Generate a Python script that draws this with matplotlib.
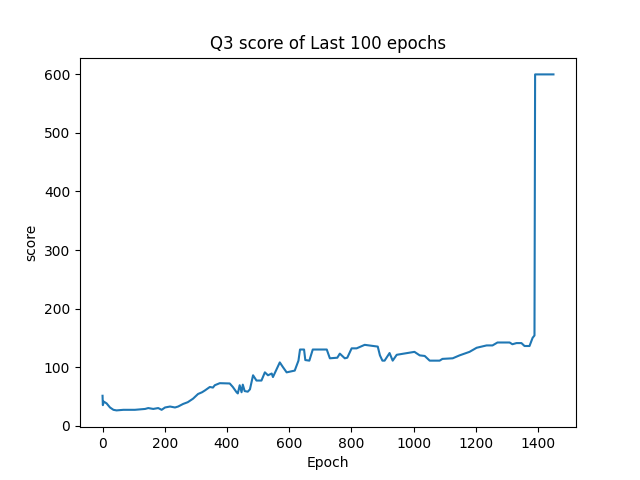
import numpy as np
import matplotlib
matplotlib.use("Agg")
import matplotlib.pyplot as plt

# breakpoints
epochs = [0, 1, 4, 13, 24, 35, 45, 67, 104, 137, 147, 163, 179, 190, 201, 217,
          233, 243, 259, 274, 291, 307, 320, 329, 345, 355, 361, 377, 409, 419,
          431, 435, 441, 447, 451, 457, 467, 474, 484, 495, 511, 522, 532, 544,
          548, 570, 580, 592, 618, 630, 635, 648, 652, 665, 676, 721, 731, 755,
          763, 779, 787, 801, 817, 843, 885, 892, 900, 907, 923, 933, 946, 1003,
          1020, 1036, 1052, 1084, 1093, 1126, 1148, 1180, 1203, 1235, 1254, 1270,
          1309, 1318, 1331, 1347, 1357, 1373, 1383, 1389, 1391, 1450]
scores = [51, 35, 41, 38, 31, 27, 26, 27, 27, 28.5, 30, 28.5, 30, 27, 31, 32.6,
          31, 32.6, 37, 40, 46, 54, 57, 60, 66, 65, 69, 72.5, 72, 66,
          57, 55, 69, 57, 70, 59, 58, 62, 86, 77, 77, 91, 86, 89,
          83, 108, 100, 91, 94, 111, 130, 130, 112, 111, 130, 130, 115, 116,
          123, 115, 116, 132, 132, 138, 135, 120, 111, 111, 124, 111, 121, 126,
          120, 119, 111, 111, 114, 115, 120, 126, 133, 137, 137, 142,
          142, 139, 141, 141, 136, 136, 150, 154, 600, 600]

plt.figure(figsize=(6.4, 4.8))
plt.plot(epochs, scores)
plt.title("Q3 score of Last 100 epochs")
plt.xlabel("Epoch")
plt.ylabel("score")
plt.savefig("out.png", dpi=100)
